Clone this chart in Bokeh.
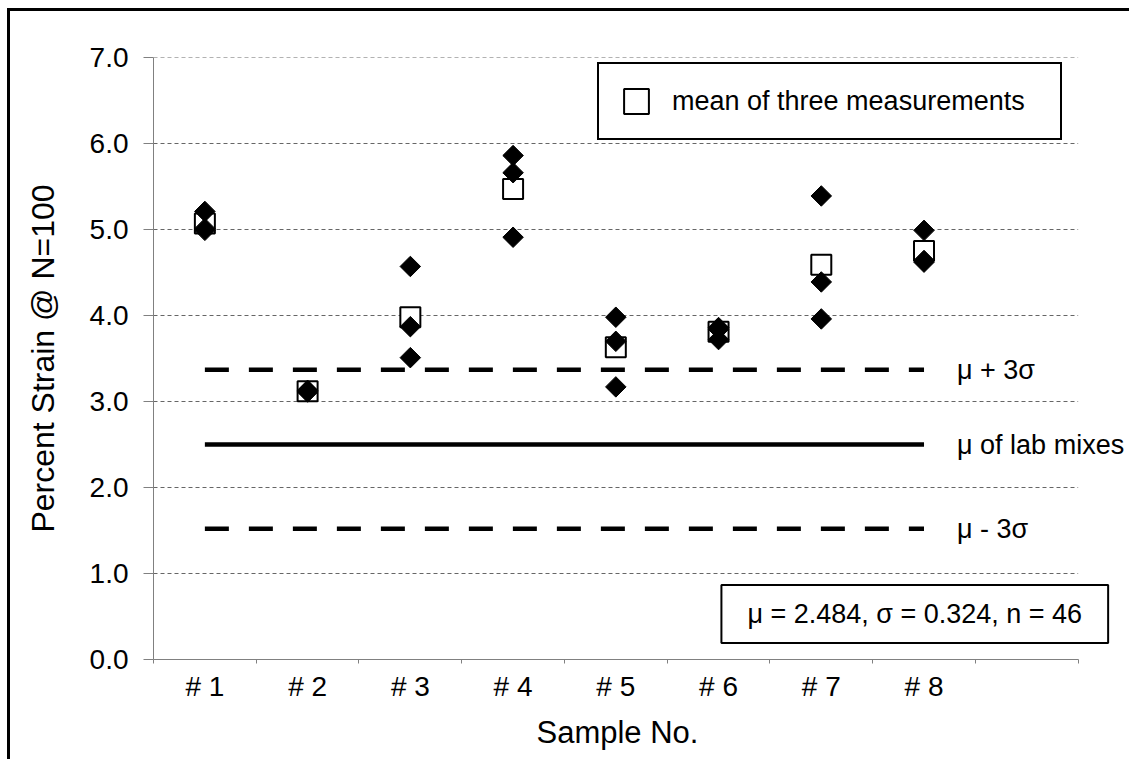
import math
from bokeh.plotting import figure
from bokeh.models import FixedTicker, Legend, LegendItem, Label, PrintfTickFormatter, Range1d, Title
from bokeh.embed import file_html
from bokeh.resources import INLINE

# ---- data ----
SAMPLES = ["# 1", "# 2", "# 3", "# 4", "# 5", "# 6", "# 7", "# 8"]
SAMPLE_POS = [1, 2, 3, 4, 5, 6, 7, 8]
MEAS_A = [5.21, 3.11, 4.57, 5.86, 3.98, 3.86, 5.39, 4.99]
MEAS_B = [5.01, 3.12, 3.87, 5.66, 3.70, 3.84, 4.39, 4.64]
MEAS_C = [4.99, 3.13, 3.51, 4.91, 3.17, 3.72, 3.96, 4.62]
MEANS = [5.07, 3.12, 3.98, 5.47, 3.63, 3.81, 4.59, 4.75]
Y_TICKS = [0, 1, 2, 3, 4, 5, 6, 7]
X_BAND = (0.5, 9.5)          # category slots (9th slot left empty)
LINE_SPAN = [1, 8]
MU_PLUS_3SIGMA = 3.37
MU_LAB = 2.50
MU_MINUS_3SIGMA = 1.52
LINE_LABELS = ["μ + 3σ", "μ of lab mixes", "μ - 3σ"]
LEGEND_LABEL = "mean of three measurements"
STATS_TEXT = "μ = 2.484, σ = 0.324, n = 46"
X_TITLE = "Sample No."
Y_TITLE = "Percent Strain @ N=100"

FONT = "Liberation Sans"

p = figure(frame_width=976, frame_height=602, output_backend="svg", toolbar_location=None,
           title=None,
           x_range=Range1d(0.5, 10.0), y_range=Range1d(0, 7),
           min_border_left=143, min_border_right=0, min_border_top=46, min_border_bottom=100,
           styles={"margin-left": "7px", "margin-top": "8px",
                   "border-top": "3px solid black", "border-left": "3px solid black",
                   "box-sizing": "content-box"})
p.outline_line_color = None
p.background_fill_color = "white"
p.border_fill_color = "white"

# y axis
yax = p.yaxis[0]
yax.ticker = FixedTicker(ticks=Y_TICKS)
yax.formatter = PrintfTickFormatter(format="%.1f")
yax.axis_line_color = "#808080"
yax.major_tick_line_color = "#808080"
yax.major_tick_out = 10
yax.major_tick_in = 0
yax.minor_tick_line_color = None
yax.major_label_standoff = 15
yax.major_label_text_font_size = "28px"
yax.major_label_text_font = FONT
yax.major_label_text_color = "black"
yax.axis_label = Y_TITLE
yax.axis_label_text_font = FONT
yax.axis_label_text_font_size = "32px"
yax.axis_label_text_font_style = "normal"
yax.axis_label_text_color = "black"
yax.axis_label_standoff = 26

# x axis
xax = p.xaxis[0]
xax.bounds = X_BAND
xax.ticker = FixedTicker(ticks=SAMPLE_POS, minor_ticks=[X_BAND[0] + k for k in range(10)])
xax.major_label_overrides = {pos: lab for pos, lab in zip(SAMPLE_POS, SAMPLES)}
xax.axis_line_color = "#808080"
xax.major_tick_line_color = None
xax.major_tick_out = 0
xax.major_tick_in = 0
xax.minor_tick_line_color = "#808080"
xax.minor_tick_out = 4
xax.minor_tick_in = 0
xax.major_label_standoff = 7
xax.major_label_text_font_size = "28px"
xax.major_label_text_font = FONT
xax.major_label_text_color = "black"

# x title centred under the category band (not the whole frame)
p.add_layout(Title(text=X_TITLE, align="left", offset=383, standoff=16,
                   text_font=FONT, text_font_size="31px", text_font_style="normal",
                   text_color="black"), "below")

# grid: horizontal dashed lines across the category band only
p.xgrid.visible = False
p.ygrid.visible = False
grid_y = Y_TICKS[1:]
p.segment(x0=[X_BAND[0]] * len(grid_y), x1=[X_BAND[1]] * len(grid_y), y0=grid_y, y1=grid_y,
          line_color="#666666", line_dash="4 3", line_width=1)

# reference lines
p.line(LINE_SPAN, [MU_PLUS_3SIGMA] * 2, line_dash="24 20", line_width=4.5, line_color="black")
p.line(LINE_SPAN, [MU_LAB] * 2, line_width=4.5, line_color="black")
p.line(LINE_SPAN, [MU_MINUS_3SIGMA] * 2, line_dash="24 20", line_width=4.5, line_color="black")

for val, txt in zip([MU_PLUS_3SIGMA, MU_LAB, MU_MINUS_3SIGMA], LINE_LABELS):
    p.add_layout(Label(x=LINE_SPAN[1], y=val, x_offset=33, text=txt, text_baseline="middle",
                       text_align="left", text_font=FONT, text_font_size="27px", text_color="black"))

# means (open squares) under the measurements
sq = p.scatter(SAMPLE_POS, MEANS, marker="square", size=20, fill_color="white",
               line_color="black", line_width=2)
for arr in (MEAS_A, MEAS_B, MEAS_C):
    p.scatter(SAMPLE_POS, arr, marker="square", angle=math.pi / 4, size=14.5,
              fill_color="black", line_color="black")

legend = Legend(items=[LegendItem(label=LEGEND_LABEL, renderers=[sq])],
                location=(444, 519), glyph_width=62, glyph_height=62, padding=6,
                label_standoff=5, label_width=382, margin=0,
                border_line_color="black", border_line_width=2, border_line_alpha=1,
                background_fill_color="white", background_fill_alpha=1,
                label_text_font=FONT, label_text_font_size="27px", label_text_color="black")
p.add_layout(legend)

p.add_layout(Label(x=7.91, y=0.53, text=STATS_TEXT, text_align="center", text_baseline="middle",
                   text_font=FONT, text_font_size="27px", text_color="black",
                   border_line_color="black", border_line_width=2, background_fill_color="white",
                   padding=dict(left=26, right=26, top=14, bottom=14)))

open("out.html", "w").write(file_html(p, INLINE))
